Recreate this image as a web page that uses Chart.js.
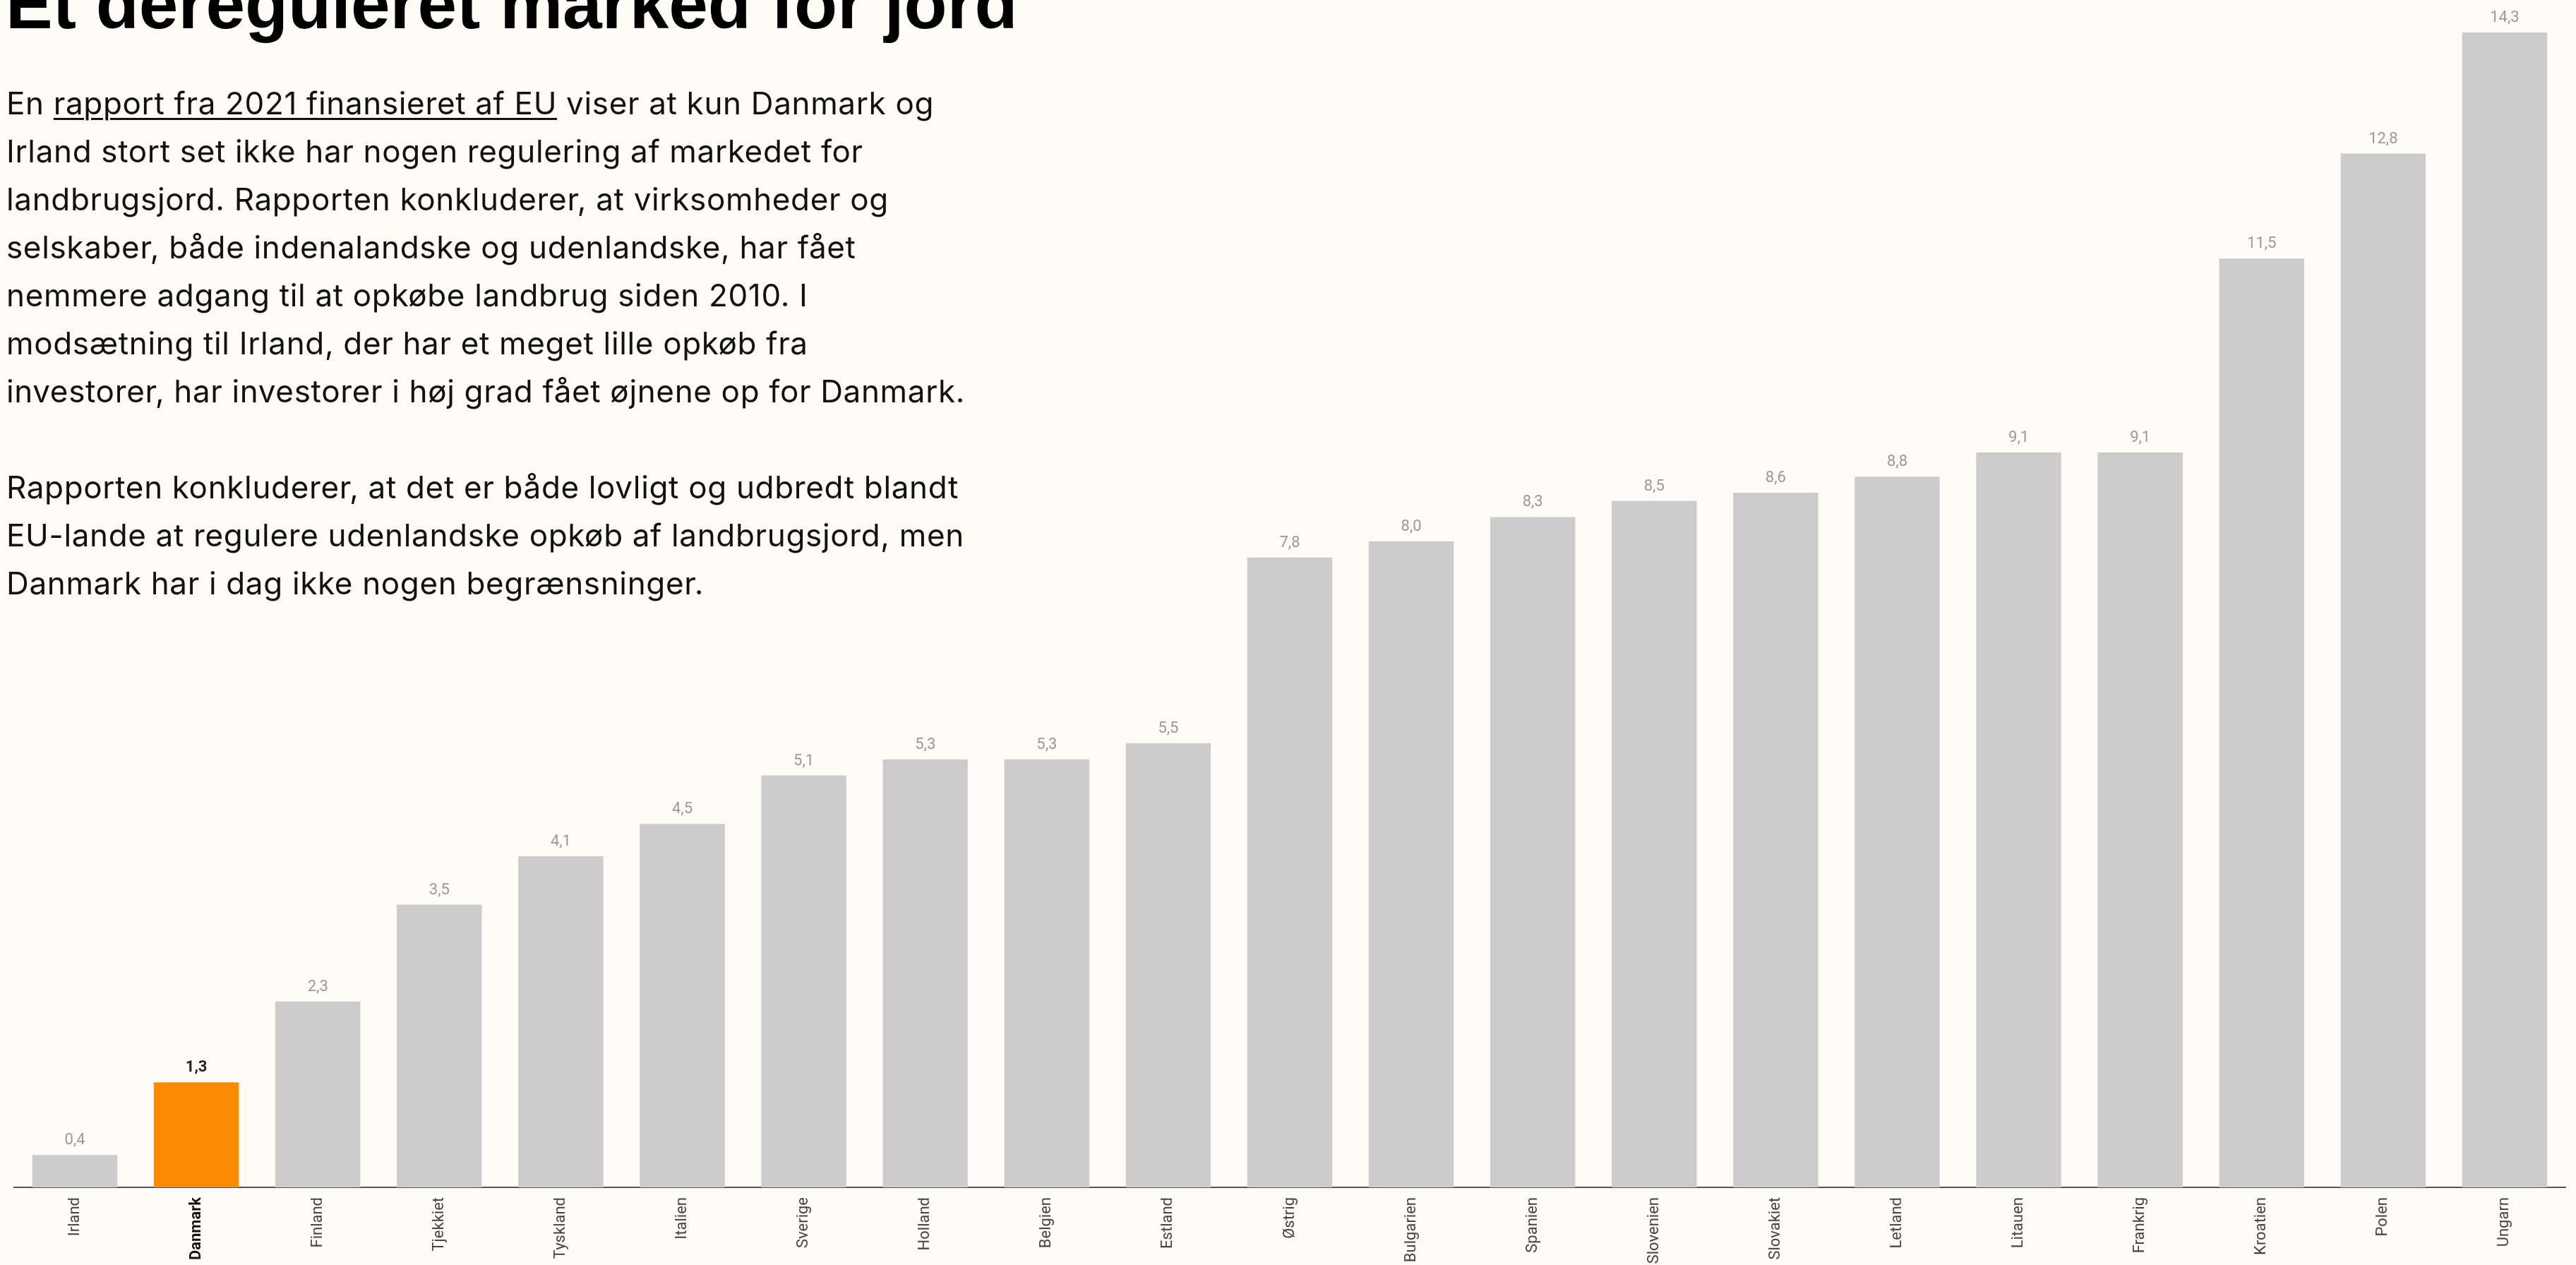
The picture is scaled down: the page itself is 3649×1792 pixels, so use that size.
<!DOCTYPE html>
<html lang="da">
<head>
<meta charset="utf-8">
<title>Et dereguleret marked for jord</title>
<script src="https://cdn.jsdelivr.net/npm/chart.js@4.4.1/dist/chart.umd.min.js"></script>
<style>
  html, body { margin: 0; padding: 0; background: #fffcf7; }
  body { width: 3649px; height: 1792px; position: relative; overflow: hidden; }
  #wrap { position: absolute; left: 0; top: 0; width: 3649px; height: 1792px; }
  h1 {
    position: absolute; left: 8px; top: -45px; margin: 0;
    font: bold 100px/100px "Liberation Sans", Arial, sans-serif;
    color: #000; white-space: nowrap;
  }
  .intro {
    position: absolute; left: 9px; top: 112px; margin: 0;
    font: 44px/68px Inter, "Noto Sans", sans-serif;
    letter-spacing: 0.65px;
    color: #111; white-space: nowrap;
  }
  .intro p { margin: 0 0 68px 0; }
  .intro u { text-decoration-thickness: 3px; text-underline-offset: 5px; }
</style>
</head>
<body>
<div id="wrap"><canvas id="landChart" width="3649" height="1792"></canvas></div>
<h1>Et dereguleret marked for jord</h1>
<div class="intro">
  <p>En <u>rapport fra 2021 finansieret af EU</u> viser at kun Danmark og<br>
  Irland stort set ikke har nogen regulering af markedet for<br>
  landbrugsjord. Rapporten konkluderer, at virksomheder og<br>
  selskaber, både indenalandske og udenlandske, har fået<br>
  nemmere adgang til at opkøbe landbrug siden 2010. I<br>
  modsætning til Irland, der har et meget lille opkøb fra<br>
  investorer, har investorer i høj grad fået øjnene op for Danmark.</p>
  <p>Rapporten konkluderer, at det er både lovligt og udbredt blandt<br>
  EU-lande at regulere udenlandske opkøb af landbrugsjord, men<br>
  Danmark har i dag ikke nogen begrænsninger.</p>
</div>
<script>
// lande sorteret efter værdi
const countries = ['Irland', 'Danmark', 'Finland', 'Tjekkiet', 'Tyskland', 'Italien', 'Sverige',
    'Holland', 'Belgien', 'Estland', 'Østrig', 'Bulgarien', 'Spanien', 'Slovenien',
    'Slovakiet', 'Letland', 'Litauen', 'Frankrig', 'Kroatien', 'Polen', 'Ungarn'];
const values = [0.4, 1.3, 2.3, 3.5, 4.1, 4.5, 5.1, 5.3, 5.3, 5.5, 7.8, 8.0, 8.3, 8.5,
    8.6, 8.8, 9.1, 9.1, 11.5, 12.8, 14.3];
const highlight = 'Danmark';

const grey = '#cccccc';
const orange = '#fb8b00';

const fmt = v => v.toFixed(1).replace('.', ',');

const valueLabels = {
    id: 'valueLabels',
    afterDatasetsDraw(chart) {
        const ctx = chart.ctx;
        const meta = chart.getDatasetMeta(0);
        ctx.save();
        ctx.textAlign = 'center';
        ctx.textBaseline = 'alphabetic';
        meta.data.forEach((bar, i) => {
            const isHl = countries[i] === highlight;
            ctx.font = (isHl ? 'bold ' : '') + '22px Roboto';
            ctx.fillStyle = isHl ? '#222222' : '#999999';
            ctx.fillText(fmt(values[i]), bar.x, bar.y - 15);
        });
        ctx.restore();
    }
};

const ctx = document.getElementById('landChart').getContext('2d');
new Chart(ctx, {
    type: 'bar',
    data: {
        labels: countries,
        datasets: [{
            data: values,
            backgroundColor: countries.map(c => c === highlight ? orange : grey),
            barPercentage: 0.7,
            categoryPercentage: 1
        }]
    },
    options: {
        responsive: false,
        animation: false,
        layout: { padding: { left: 20, right: 15, top: 46, bottom: 0 } },
        plugins: {
            legend: { display: false },
            tooltip: { enabled: false }
        },
        scales: {
            x: {
                grid: { display: false, drawTicks: false },
                border: { display: true, color: '#555555', width: 2 },
                ticks: {
                    autoSkip: false,
                    minRotation: 90,
                    maxRotation: 90,
                    padding: 14,
                    color: c => countries[c.index] === highlight ? '#111111' : '#444444',
                    font: c => ({
                        family: 'Roboto',
                        size: 22,
                        weight: countries[c.index] === highlight ? 'bold' : 'normal'
                    })
                },
                afterFit: scale => { scale.height = 110; }
            },
            y: {
                display: false,
                min: 0,
                max: 14.3
            }
        }
    },
    plugins: [valueLabels]
});
</script>
</body>
</html>
